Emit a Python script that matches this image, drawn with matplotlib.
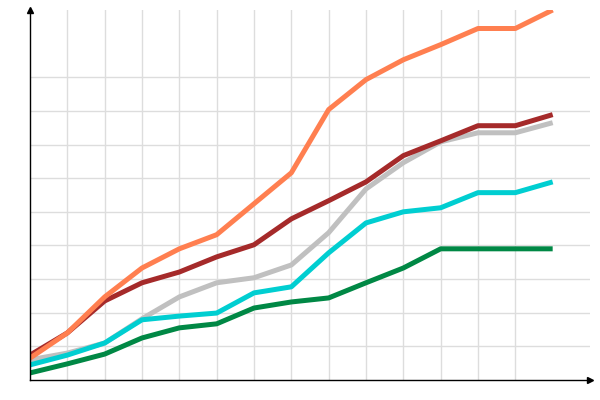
import matplotlib
matplotlib.use('Agg')
import matplotlib.pyplot as plt

x = list(range(15))

orange = [0.65, 1.40, 2.47, 3.33, 3.90, 4.32, 5.24, 6.16, 8.04, 8.93, 9.52, 9.97, 10.45, 10.45, 11.0]
red = [0.74, 1.40, 2.35, 2.89, 3.21, 3.66, 4.02, 4.79, 5.33, 5.89, 6.67, 7.11, 7.56, 7.56, 7.89]
gray = [0.60, 0.80, 1.10, 1.82, 2.47, 2.89, 3.04, 3.42, 4.38, 5.68, 6.46, 7.08, 7.35, 7.35, 7.65]
cyan = [0.45, 0.74, 1.10, 1.79, 1.90, 1.99, 2.59, 2.77, 3.78, 4.67, 5.00, 5.12, 5.57, 5.57, 5.89]
green = [0.21, 0.48, 0.77, 1.25, 1.55, 1.67, 2.14, 2.32, 2.44, 2.89, 3.33, 3.90, 3.90, 3.90, 3.90]

series = [
    (green, '#008845'),
    (gray, '#c0c0c0'),
    (cyan, '#00ced1'),
    (red, '#a52a2a'),
    (orange, '#ff7f50'),
]

fig = plt.figure(figsize=(6, 4), dpi=100)
ax = fig.add_axes([0.05, 0.05, 560 / 600, 370 / 400])

ax.set_xlim(0, 15)
ax.set_ylim(0, 11)

# grid
for gx in range(1, 14):
    ax.axvline(gx, color='#dddddd', lw=1, zorder=0)
for gy in range(1, 10):
    ax.axhline(gy, color='#dddddd', lw=1, zorder=0)

for vals, col in series:
    ax.plot(x, vals, color=col, lw=3.6, solid_capstyle='butt', zorder=2)

ax.set_xticks([])
ax.set_yticks([])
for s in ['top', 'right']:
    ax.spines[s].set_visible(False)
for s in ['left', 'bottom']:
    ax.spines[s].set_color('black')
    ax.spines[s].set_linewidth(1)

# arrow heads
ax.plot([0], [11], marker='^', color='black', ms=4, clip_on=False, zorder=3)
ax.plot([15], [0], marker='>', color='black', ms=4, clip_on=False, zorder=3)

fig.savefig('out.png', dpi=100)
